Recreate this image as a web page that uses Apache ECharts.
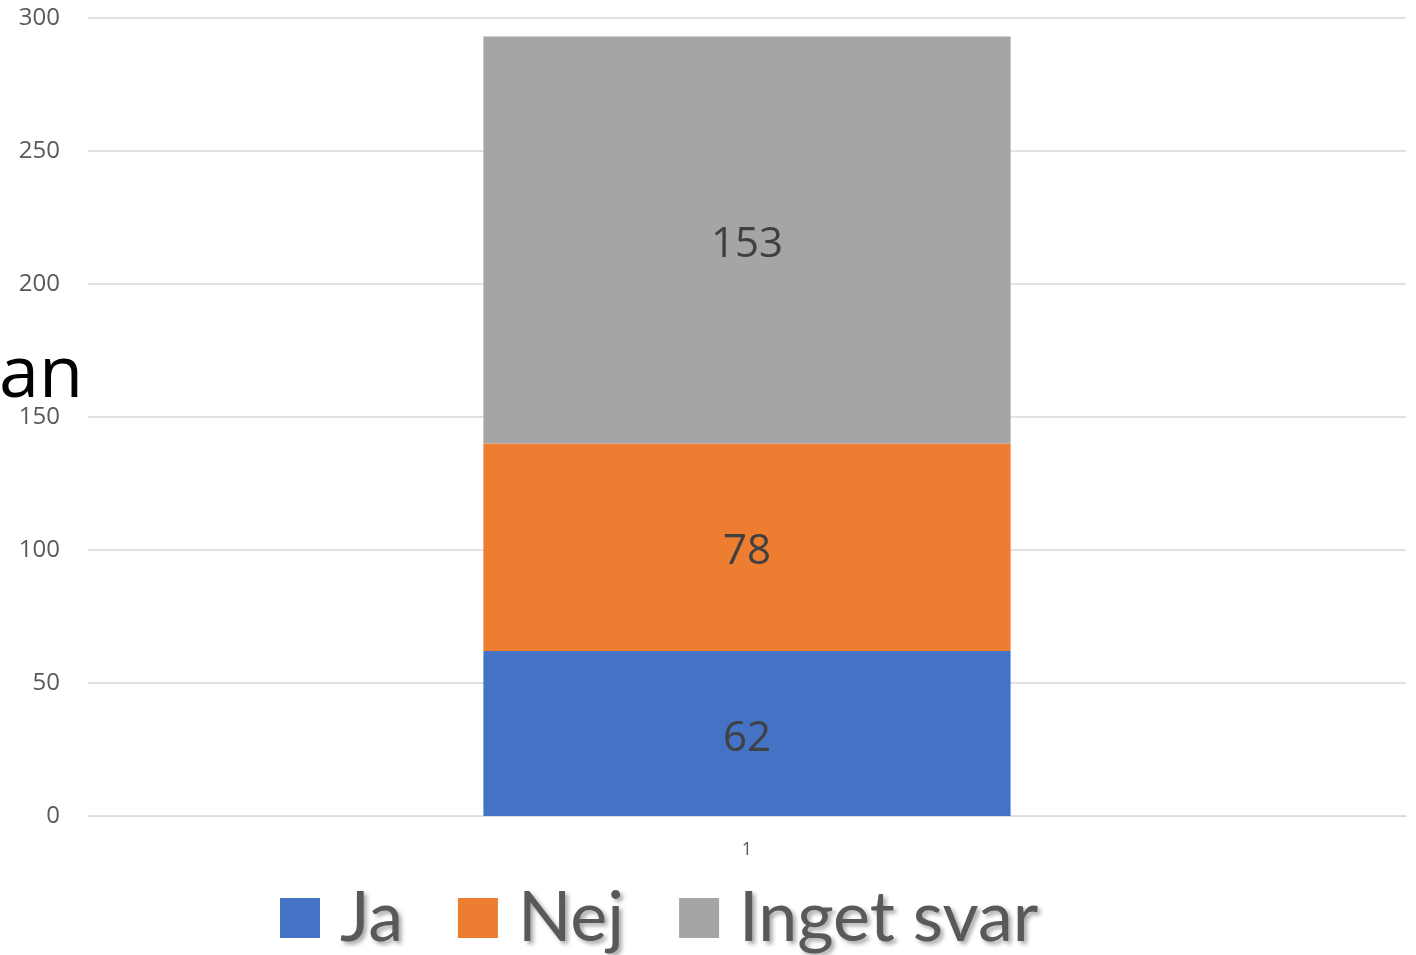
<!DOCTYPE html>
<html>
<head>
<meta charset="utf-8">
<script src="https://cdn.jsdelivr.net/npm/echarts@6/dist/echarts.min.js"></script>
<style>
  html, body { margin: 0; padding: 0; background: #fff; }
  #chart { width: 1416px; height: 955px; }
</style>
</head>
<body>
<div id="chart"></div>
<script>
var categories = ['1'];
var seriesNames = ['Ja', 'Nej', 'Inget svar'];
var jaValues = [62];
var nejValues = [78];
var ingetValues = [153];
var colors = ['#4472c4', '#ed7d31', '#a5a5a5'];

var myChart = echarts.init(document.getElementById('chart'));

var labelStyle = {
    show: true,
    position: 'inside',
    offset: [0, 5],
    color: '#404040',
    fontSize: 42,
    fontFamily: 'Open Sans'
};

var option = {
    animation: false,
    color: colors,
    title: {
        text: 'an',
        left: -6,
        top: 335,
        textStyle: { color: '#000', fontSize: 72, fontWeight: 'normal', fontFamily: 'Open Sans' }
    },
    grid: { left: 88, right: 10, top: 18, bottom: 139 },
    legend: {
        bottom: -3,
        left: 275,
        icon: 'rect',
        itemWidth: 40,
        itemHeight: 40,
        itemGap: 55,
        data: seriesNames,
        textStyle: {
            color: '#595959',
            fontSize: 70,
            fontFamily: 'Lato',
            padding: [0, 0, 0, 15],
            textShadowColor: 'rgba(0,0,0,0.35)',
            textShadowBlur: 4,
            textShadowOffsetX: 3,
            textShadowOffsetY: 3
        }
    },
    xAxis: {
        type: 'category',
        data: categories,
        axisLine: { lineStyle: { color: '#d9d9d9' } },
        axisTick: { show: false },
        axisLabel: { color: '#595959', fontSize: 18, margin: 25, fontFamily: 'Open Sans' }
    },
    yAxis: {
        type: 'value',
        min: 0,
        max: 300,
        interval: 50,
        axisLine: { show: false },
        axisTick: { show: false },
        splitLine: { lineStyle: { color: '#d9d9d9', width: 1.5 } },
        axisLabel: { color: '#595959', fontSize: 24, margin: 28, fontFamily: 'Open Sans' }
    },
    series: [
        { name: 'Ja', type: 'bar', stack: 'total', data: jaValues, barCategoryGap: '60%', label: labelStyle },
        { name: 'Nej', type: 'bar', stack: 'total', data: nejValues, label: labelStyle },
        { name: 'Inget svar', type: 'bar', stack: 'total', data: ingetValues, label: labelStyle }
    ]
};

myChart.setOption(option);
</script>
</body>
</html>
